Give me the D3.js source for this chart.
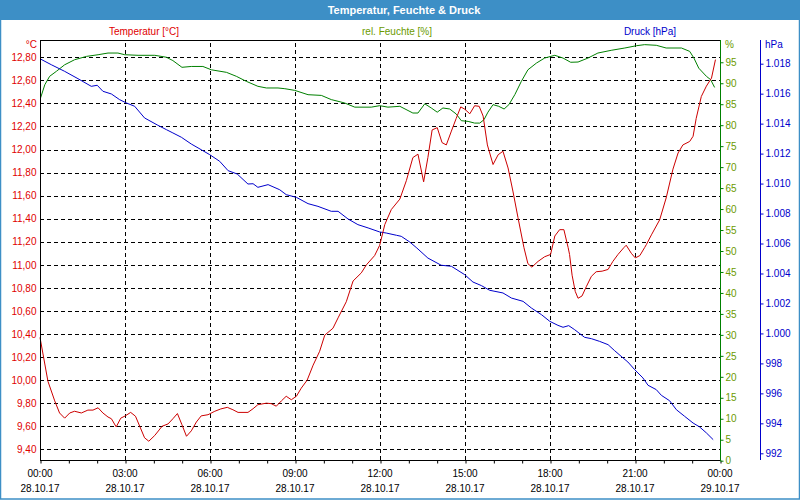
<!DOCTYPE html>
<html><head><meta charset="utf-8">
<script src="https://cdn.jsdelivr.net/npm/d3@7"></script>
<style>
body{margin:0;background:#fff;}
svg{display:block;font-family:"Liberation Sans",Arial,sans-serif;}
</style></head><body>
<svg id="c" width="800" height="500"></svg>
<script>
// ---- data ----
const title = "Temperatur, Feuchte & Druck";
const seriesNames = ["Temperatur [°C]", "rel. Feuchte [%]", "Druck [hPa]"];
const timeLabels = ["00:00","03:00","06:00","09:00","12:00","15:00","18:00","21:00","00:00"];
const dateLabels = ["28.10.17","28.10.17","28.10.17","28.10.17","28.10.17","28.10.17","28.10.17","28.10.17","29.10.17"];
const tempTicks = [9.4,9.6,9.8,10.0,10.2,10.4,10.6,10.8,11.0,11.2,11.4,11.6,11.8,12.0,12.2,12.4,12.6,12.8];
const humTicks = [0,5,10,15,20,25,30,35,40,45,50,55,60,65,70,75,80,85,90,95];
const pressTicks = [992,994,996,998,1000,1002,1004,1006,1008,1010,1012,1014,1016,1018];

// [hour of day, value]
const temperature = [
[0,10.37],[0.28,9.99],[0.52,9.82],[0.69,9.715],[0.87,9.67],[1.05,9.715],[1.22,9.73],[1.46,9.715],[1.69,9.74],[1.87,9.74],
[2.05,9.76],[2.22,9.715],[2.4,9.68],[2.52,9.665],[2.69,9.594],[2.85,9.67],[3.01,9.69],[3.2,9.72],[3.37,9.687],[3.52,9.6],
[3.69,9.5],[3.84,9.47],[4.05,9.52],[4.31,9.6],[4.52,9.62],[4.69,9.665],[4.85,9.71],[5.01,9.613],[5.17,9.513],[5.34,9.56],
[5.52,9.637],[5.69,9.69],[5.93,9.70],[6.17,9.73],[6.38,9.75],[6.61,9.764],[6.81,9.743],[6.99,9.72],[7.34,9.72],[7.52,9.752],
[7.69,9.787],[7.99,9.80],[8.16,9.796],[8.34,9.774],[8.52,9.82],[8.69,9.86],[8.87,9.83],[9.05,9.86],[9.22,9.93],[9.43,10.0],
[9.64,10.13],[9.87,10.25],[10.05,10.39],[10.34,10.45],[10.52,10.54],[10.81,10.68],[11.05,10.86],[11.34,10.93],[11.52,11.0],[11.81,11.08],
[11.99,11.17],[12.17,11.35],[12.4,11.48],[12.7,11.57],[12.93,11.73],[13.16,11.93],[13.34,11.96],[13.54,11.72],[13.69,11.93],[13.84,12.17],
[14.02,12.19],[14.19,12.06],[14.34,12.04],[14.52,12.16],[14.69,12.27],[14.85,12.37],[14.99,12.35],[15.17,12.31],[15.34,12.38],[15.5,12.375],
[15.64,12.29],[15.79,12.04],[15.99,11.87],[16.17,11.955],[16.34,11.985],[16.52,11.84],[16.69,11.64],[16.87,11.41],[17.08,11.15],[17.22,11.01],
[17.36,10.98],[17.58,11.03],[17.81,11.07],[18.02,11.09],[18.17,11.25],[18.34,11.305],[18.49,11.305],[18.64,11.15],[18.69,11.09],[18.78,10.91],
[18.89,10.77],[18.99,10.71],[19.13,10.73],[19.28,10.81],[19.46,10.9],[19.63,10.94],[19.84,10.945],[20.05,10.96],[20.22,11.03],[20.4,11.09],
[20.61,11.15],[20.69,11.17],[20.87,11.1],[21.01,11.06],[21.17,11.08],[21.34,11.15],[21.4,11.175],[21.58,11.26],[21.87,11.39],[22.1,11.58],
[22.34,11.83],[22.52,11.97],[22.69,12.04],[22.93,12.07],[23.05,12.115],[23.16,12.27],[23.34,12.46],[23.52,12.55],[23.7,12.62],[23.84,12.78]
];
const humidity = [
[0.02,86.5],[0.17,89.65],[0.34,91.65],[0.58,92.85],[0.87,94.4],[1.22,95.6],[1.64,96.4],[2.05,96.8],[2.4,97.2],[2.75,97.2],
[2.99,96.8],[3.46,96.66],[4.05,96.66],[4.46,96.2],[4.69,95.4],[5.01,93.8],[5.34,94.0],[5.75,94.0],[6.05,93.2],[6.58,92.6],
[6.93,91.65],[7.28,90.46],[7.69,89.27],[7.99,88.87],[8.4,88.87],[8.64,88.7],[8.99,88.3],[9.46,87.27],[9.93,87.1],[10.28,86.1],
[10.75,85.3],[11.11,84.3],[11.69,84.3],[11.99,84.65],[12.28,84.3],[12.7,84.5],[13.16,82.9],[13.34,82.9],[13.58,85.1],[13.81,84.1],
[14.02,83.1],[14.22,84.1],[14.46,83.86],[14.69,82.67],[14.87,81.07],[15.11,80.9],[15.34,80.5],[15.52,80.5],[15.67,81.3],[15.81,83.1],
[15.99,84.9],[16.19,84.5],[16.38,83.86],[16.55,84.9],[16.76,87.3],[16.99,90.46],[17.22,93.2],[17.52,94.8],[17.81,96.0],[18.17,96.66],
[18.46,96.0],[18.73,95.0],[18.99,95.06],[19.34,96.0],[19.69,97.2],[20.16,97.85],[20.64,98.4],[21.05,98.95],[21.34,99.2],[21.75,99.05],
[22.1,98.4],[22.64,98.4],[22.93,97.6],[23.08,96.0],[23.25,93.6],[23.52,91.65],[23.67,90.85],[23.81,89.0]
];
const pressure = [
[0.02,1018.31],[0.4,1017.93],[0.87,1017.49],[1.34,1017.0],[1.81,1016.49],[2.02,1016.56],[2.22,1016.16],[2.52,1015.98],[2.81,1015.6],[3.05,1015.38],
[3.34,1015.16],[3.69,1014.38],[4.16,1013.89],[4.46,1013.6],[4.69,1013.38],[4.99,1013.09],[5.34,1012.64],[5.69,1012.26],[5.99,1011.93],[6.34,1011.49],
[6.64,1010.86],[6.96,1010.64],[7.34,1009.97],[7.52,1009.99],[7.69,1009.75],[8.05,1009.93],[8.46,1009.59],[8.69,1009.26],[9.05,1009.08],[9.46,1008.66],
[9.81,1008.48],[10.28,1008.15],[10.52,1008.15],[10.87,1007.64],[11.22,1007.26],[11.58,1007.04],[11.99,1006.77],[12.22,1006.7],[12.58,1006.55],[12.75,1006.48],
[13.05,1006.1],[13.3,1005.7],[13.69,1005.03],[14.16,1004.55],[14.52,1004.48],[14.99,1003.92],[15.28,1003.43],[15.58,1003.19],[15.87,1002.88],[16.34,1002.7],
[16.64,1002.36],[17.05,1002.14],[17.34,1001.7],[17.7,1001.25],[17.99,1000.81],[18.28,1000.54],[18.46,1000.41],[18.66,1000.52],[18.87,1000.25],[19.22,999.74],
[19.46,999.65],[19.75,999.47],[20.05,999.25],[20.28,998.85],[20.58,998.36],[20.75,998.09],[20.99,997.58],[21.28,997.03],[21.46,996.54],[21.75,996.25],
[21.93,995.87],[22.22,995.51],[22.46,994.91],[22.75,994.47],[23.05,994.02],[23.28,993.76],[23.52,993.36],[23.76,992.91]
];

// ---- layout / styles ----
const L = 40, R = 720, T = 40, B = 460;
const cTemp = "#cc0000", cTempTxt = "#e00000", cHum = "#008000", cHumTxt = "#6b9a00", cPress = "#0000cc";
const frame = "#3d8fc6";
const svg = d3.select("#c");
const t0 = new Date(2017, 9, 28, 0, 0);
const toDate = h => new Date(t0.getTime() + h * 3600000);

const x = d3.scaleTime().domain([t0, toDate(24)]).range([L, R]);
const yT = d3.scaleLinear().domain([9.4, 12.8]).range([449.3, 57.3]);
const yH = d3.scaleLinear().domain([0, 100]).range([460.7, 41.3]);
const yP = d3.scaleLinear().domain([992, 1018]).range([453.3, 63.7]);

// frame and title bar
svg.append("rect").attr("x", 0.5).attr("y", 0.5).attr("width", 799).attr("height", 498.5)
  .attr("fill", "#fff").attr("stroke", frame).attr("stroke-width", 1.5);
svg.append("rect").attr("x", 0).attr("y", 0).attr("width", 800).attr("height", 20).attr("fill", frame);
svg.append("text").attr("x", 404).attr("y", 13.5).attr("text-anchor", "middle")
  .attr("fill", "#fff").attr("font-weight", "bold").attr("font-size", 11).text(title);

// series headers
const headX = [144, 397, 650], headC = [cTempTxt, cHumTxt, cPress];
svg.selectAll("text.head").data(seriesNames).join("text").attr("class", "head")
  .attr("x", (d, i) => headX[i]).attr("y", 34.5).attr("text-anchor", "middle")
  .attr("font-size", 10).attr("fill", (d, i) => headC[i]).text(d => d);

// horizontal gridlines
const gH = svg.append("g").attr("transform", `translate(${L},0)`)
  .call(d3.axisLeft(yT).tickValues(tempTicks).tickSize(-(R - L)).tickFormat(""));
gH.select(".domain").remove();
gH.selectAll("line").attr("stroke", "#000").attr("stroke-dasharray", "4,3").attr("shape-rendering", "crispEdges");

// vertical gridlines (3-hour)
const gV = svg.append("g").attr("transform", `translate(0,${B})`)
  .call(d3.axisBottom(x).ticks(d3.timeHour.every(3)).tickSize(-(B - T)).tickFormat(""));
gV.select(".domain").remove();
gV.selectAll(".tick").filter((d, i, n) => i === 0 || i === n.length - 1).remove();
gV.selectAll("line").attr("stroke", "#000").attr("stroke-dasharray", "4,3").attr("shape-rendering", "crispEdges");

// series lines
const line = (ys) => d3.line().x(d => x(toDate(d[0]))).y(d => ys(d[1]));
svg.append("path").datum(humidity).attr("d", line(yH)).attr("fill", "none").attr("stroke", cHum).attr("stroke-width", 1);
svg.append("path").datum(pressure).attr("d", line(yP)).attr("fill", "none").attr("stroke", cPress).attr("stroke-width", 1);
svg.append("path").datum(temperature).attr("d", line(yT)).attr("fill", "none").attr("stroke", cTemp).attr("stroke-width", 1);

// plot border: top line
svg.append("line").attr("x1", L).attr("x2", R).attr("y1", T + 0.5).attr("y2", T + 0.5).attr("stroke", "#000");

// left axis (temperature)
const aT = svg.append("g").attr("transform", `translate(${L + 0.5},0)`)
  .call(d3.axisLeft(yT).tickValues(tempTicks).tickSize(0).tickPadding(4)
    .tickFormat(d => d.toFixed(2).replace(".", ",")));
aT.select(".domain").attr("d", `M0,${T}V${B}`).attr("stroke", "#000");
aT.selectAll("text").attr("fill", cTempTxt).attr("font-size", 10).attr("font-family", null);
svg.append("text").attr("x", 37).attr("y", 48).attr("text-anchor", "end").attr("font-size", 10).attr("fill", cTempTxt).text("°C");

// bottom axis (hourly ticks)
const aX = svg.append("g").attr("transform", `translate(0,${B + 0.5})`)
  .call(d3.axisBottom(x).ticks(d3.timeHour.every(1)).tickSize(3).tickFormat(""));
aX.select(".domain").attr("d", `M${L},0H${R}`).attr("stroke", "#000");
aX.selectAll("line").attr("stroke", "#000").attr("transform", "translate(0.5,0)");
const labelHours = d3.range(0, 25, 3);
const xl = svg.append("g");
xl.selectAll("text.tl").data(timeLabels).join("text").attr("class", "tl")
  .attr("x", (d, i) => x(toDate(labelHours[i]))).attr("y", 477).attr("text-anchor", "middle")
  .attr("font-size", 10).attr("fill", "#000").text(d => d);
xl.selectAll("text.dl").data(dateLabels).join("text").attr("class", "dl")
  .attr("x", (d, i) => x(toDate(labelHours[i]))).attr("y", 492).attr("text-anchor", "middle")
  .attr("font-size", 10).attr("fill", "#000").text(d => d);

// right axis (humidity)
const aH = svg.append("g").attr("transform", `translate(${R + 0.5},0)`)
  .call(d3.axisRight(yH).tickValues(humTicks).tickSize(3).tickPadding(2));
aH.select(".domain").attr("d", `M0,${T}V${B + 1}`).attr("stroke", cHum);
aH.selectAll("line").attr("stroke", cHum);
aH.selectAll("text").attr("fill", cHumTxt).attr("font-size", 10).attr("font-family", null);
svg.append("text").attr("x", 725).attr("y", 48).attr("font-size", 10).attr("fill", cHumTxt).text("%");

// far right axis (pressure)
const aP = svg.append("g").attr("transform", `translate(760.5,0)`)
  .call(d3.axisRight(yP).tickValues(pressTicks).tickSize(3).tickPadding(2)
    .tickFormat(d => d >= 1000 ? "1." + String(d).slice(1) : String(d)));
aP.select(".domain").attr("d", `M0,${T}V${B}`).attr("stroke", cPress);
aP.selectAll("line").attr("stroke", cPress);
aP.selectAll("text").attr("fill", cPress).attr("font-size", 10).attr("font-family", null);
svg.append("text").attr("x", 765).attr("y", 48).attr("font-size", 10).attr("fill", cPress).text("hPa");
</script>
</body></html>
